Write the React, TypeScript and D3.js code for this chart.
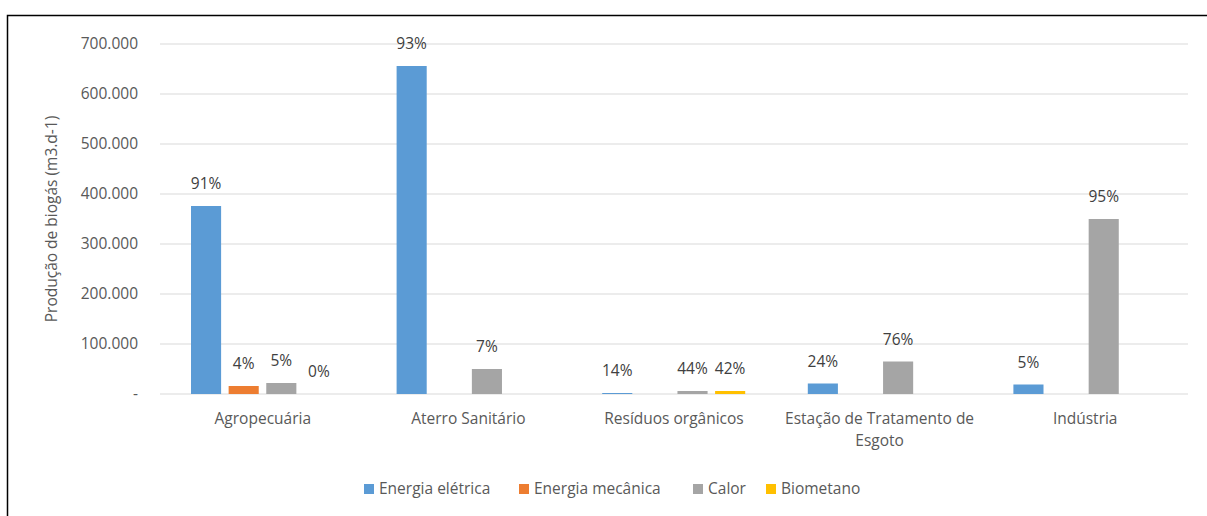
import React from 'react';
import * as d3 from 'd3';

// categories and series (m3.d-1)
const categories = ['Agropecuária', 'Aterro Sanitário', 'Resíduos orgânicos', 'Estação de Tratamento de Esgoto', 'Indústria'];
const seriesNames = ['Energia elétrica', 'Energia mecânica', 'Calor', 'Biometano'];
const seriesColors = ['#5b9bd5', '#ed7d31', '#a5a5a5', '#ffc000'];

const energiaEletrica = [376000, 656000, 2000, 21000, 19000];
const energiaMecanica = [16000, 0, 0, 0, 0];
const calor = [22000, 50000, 6000, 65000, 350000];
const biometano = [0, 0, 6000, 0, 0];

const labelsEletrica = ['91%', '93%', '14%', '24%', '5%'];
const labelsMecanica = ['4%', null, null, null, null];
const labelsCalor = ['5%', '7%', '44%', '76%', '95%'];
const labelsBiometano = ['0%', null, '42%', null, null];

const yTicks = [0, 100000, 200000, 300000, 400000, 500000, 600000, 700000];

const W = 1207;
const H = 516;
const FONT = '"Open Sans", "Noto Sans", sans-serif';
const FS = 15.5;

export default function App() {
  const values = [energiaEletrica, energiaMecanica, calor, biometano];
  const labels = [labelsEletrica, labelsMecanica, labelsCalor, labelsBiometano];

  const x0 = d3.scaleBand().domain(categories).range([160, 1188]);
  const x1 = d3.scaleBand<number>()
    .domain(d3.range(seriesNames.length))
    .range([31, 174])
    .paddingInner(0.2);
  const y = d3.scaleLinear().domain([0, 700000]).range([394, 44]);

  const fmt = (v: number) => v === 0 ? '-' : d3.format(',')(v).replace(/,/g, '.');

  const legendX = [364, 519, 693, 766];

  return (
    <svg width={W} height={H} style={{ position: 'absolute', left: 0, top: 0 }} fontFamily={FONT}>
      <rect x={0} y={0} width={W} height={H} fill="#fff" />
      <rect x={7.5} y={15.5} width={W + 10} height={H + 10} fill="none" stroke="#000" strokeWidth={1.5} />

      {yTicks.map(t => (
        <g key={t}>
          <line x1={160} x2={1188} y1={y(t)} y2={y(t)} stroke="#d9d9d9" strokeWidth={1} />
          <text x={138} y={y(t)} dy="0.35em" textAnchor="end" fontSize={FS} fill="#595959">{fmt(t)}</text>
        </g>
      ))}

      <text transform={`translate(57,${y(350000)}) rotate(-90)`} textAnchor="middle" fontSize={FS} fill="#595959">
        Produção de biogás (m3.d-1)
      </text>

      {categories.map((c, ci) => (
        <g key={c} transform={`translate(${x0(c)},0)`}>
          {values.map((vals, si) => (
            <rect key={si} x={x1(si)} width={x1.bandwidth()} y={y(vals[ci])}
              height={y(0) - y(vals[ci])} fill={seriesColors[si]} />
          ))}
          {labels.map((labs, si) => labs[ci] ? (
            <text key={'l' + si} x={(x1(si) as number) + x1.bandwidth() / 2} y={y(values[si][ci]) - 17}
              textAnchor="middle" fontSize={FS} fill="#404040">{labs[ci]}</text>
          ) : null)}
        </g>
      ))}

      {categories.map(c => {
        const cx = (x0(c) as number) + x0.bandwidth() / 2;
        const lines = c.startsWith('Estação') ? ['Estação de Tratamento de', 'Esgoto'] : [c];
        return (
          <text key={'x' + c} x={cx} y={424} textAnchor="middle" fontSize={FS} fill="#595959">
            {lines.map((l, i) => <tspan key={i} x={cx} dy={i === 0 ? 0 : 22}>{l}</tspan>)}
          </text>
        );
      })}

      {seriesNames.map((s, i) => (
        <g key={s}>
          <rect x={legendX[i]} y={484} width={10} height={10} fill={seriesColors[i]} />
          <text x={legendX[i] + 15} y={489} dy="0.35em" fontSize={FS} fill="#595959">{s}</text>
        </g>
      ))}
    </svg>
  );
}
